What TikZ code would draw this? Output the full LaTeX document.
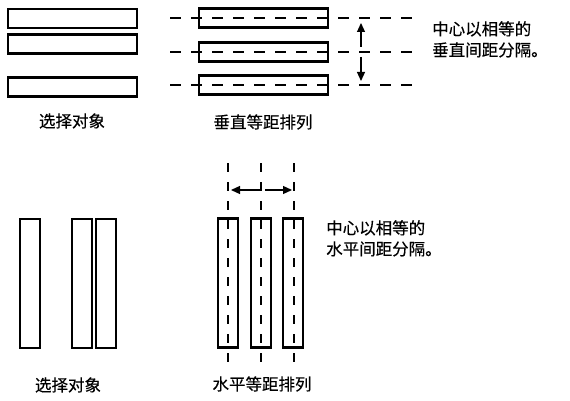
\documentclass[tikz,border=0pt]{standalone}
\usepackage{fontspec}
\newfontfamily\cjk[AutoFakeBold=0.3]{Noto Sans CJK SC}
\usetikzlibrary{arrows.meta}
\begin{document}
\begin{tikzpicture}[x=1pt,y=-1pt,
  obj/.style={draw,line width=2.2pt,inner sep=0pt},
  hbar/.style={obj,minimum width=129pt,minimum height=19pt},
  vbar/.style={obj,minimum width=20pt,minimum height=129pt},
  guide/.style={line width=2.2pt,dash pattern=on 11pt off 10pt},
  vguide/.style={line width=2.2pt,dash pattern=on 9pt off 10pt},
  gap/.style={line width=1.2pt,-{Triangle[length=9pt,width=8pt]}},
  lbl/.style={font=\cjk\bfseries\fontsize{16.5}{20}\selectfont,inner sep=0pt},
  note/.style={lbl,align=left,anchor=north west,font=\cjk\bfseries\fontsize{16.5}{21}\selectfont}]
\useasboundingbox (0,0) rectangle (570,401);
% top left
\node[hbar] (a1) at (72.5,18.5) {};
\node[hbar] (a2) at (72.5,44) {};
\node[hbar] (a3) at (72.5,87) {};
\node[lbl] (la) at (72,121) {选择对象};
% top middle
\node[hbar] (b1) at (263.5,18) {};
\node[hbar] (b2) at (263.5,52) {};
\node[hbar] (b3) at (263.5,85) {};
\coordinate (g1l) at (170,18); \coordinate (g1r) at (418,18);
\coordinate (g2l) at (170,52); \coordinate (g2r) at (418,52);
\coordinate (g3l) at (170,85); \coordinate (g3r) at (418,85);
\draw[guide] (g1l) -- (g1r);
\draw[guide] (g2l) -- (g2r);
\draw[guide] (g3l) -- (g3r);
\coordinate (u0) at (361,47); \coordinate (u1) at (361,23);
\coordinate (d0) at (361,57); \coordinate (d1) at (361,81);
\draw[gap] (u0) -- (u1);
\draw[gap] (d0) -- (d1);
\node[lbl] (lb) at (263,122) {垂直等距排列};
\node[note] (nb) at (432,21) {中心以相等的\\垂直间距分隔。};
% bottom left
\node[vbar] (c1) at (30,283.5) {};
\node[vbar] (c2) at (82,283.5) {};
\node[vbar] (c3) at (106,283.5) {};
\node[lbl] (lc) at (68,385) {选择对象};
% bottom middle
\node[vbar] (e1) at (228,283) {};
\node[vbar] (e2) at (261,283) {};
\node[vbar] (e3) at (293,283) {};
\coordinate (v1t) at (228,163); \coordinate (v1b) at (228,362);
\coordinate (v2t) at (261,163); \coordinate (v2b) at (261,362);
\coordinate (v3t) at (294,163); \coordinate (v3b) at (294,362);
\draw[vguide] (v1t) -- (v1b);
\draw[vguide] (v2t) -- (v2b);
\draw[vguide] (v3t) -- (v3b);
\coordinate (l0) at (260,190); \coordinate (l1) at (231,190);
\coordinate (r0) at (265,190); \coordinate (r1) at (292,190);
\draw[gap] (l0) -- (l1);
\draw[gap] (r0) -- (r1);
\node[lbl] (le) at (262,384) {水平等距排列};
\node[note] (ne) at (326,220) {中心以相等的\\水平间距分隔。};
\end{tikzpicture}
\end{document}
